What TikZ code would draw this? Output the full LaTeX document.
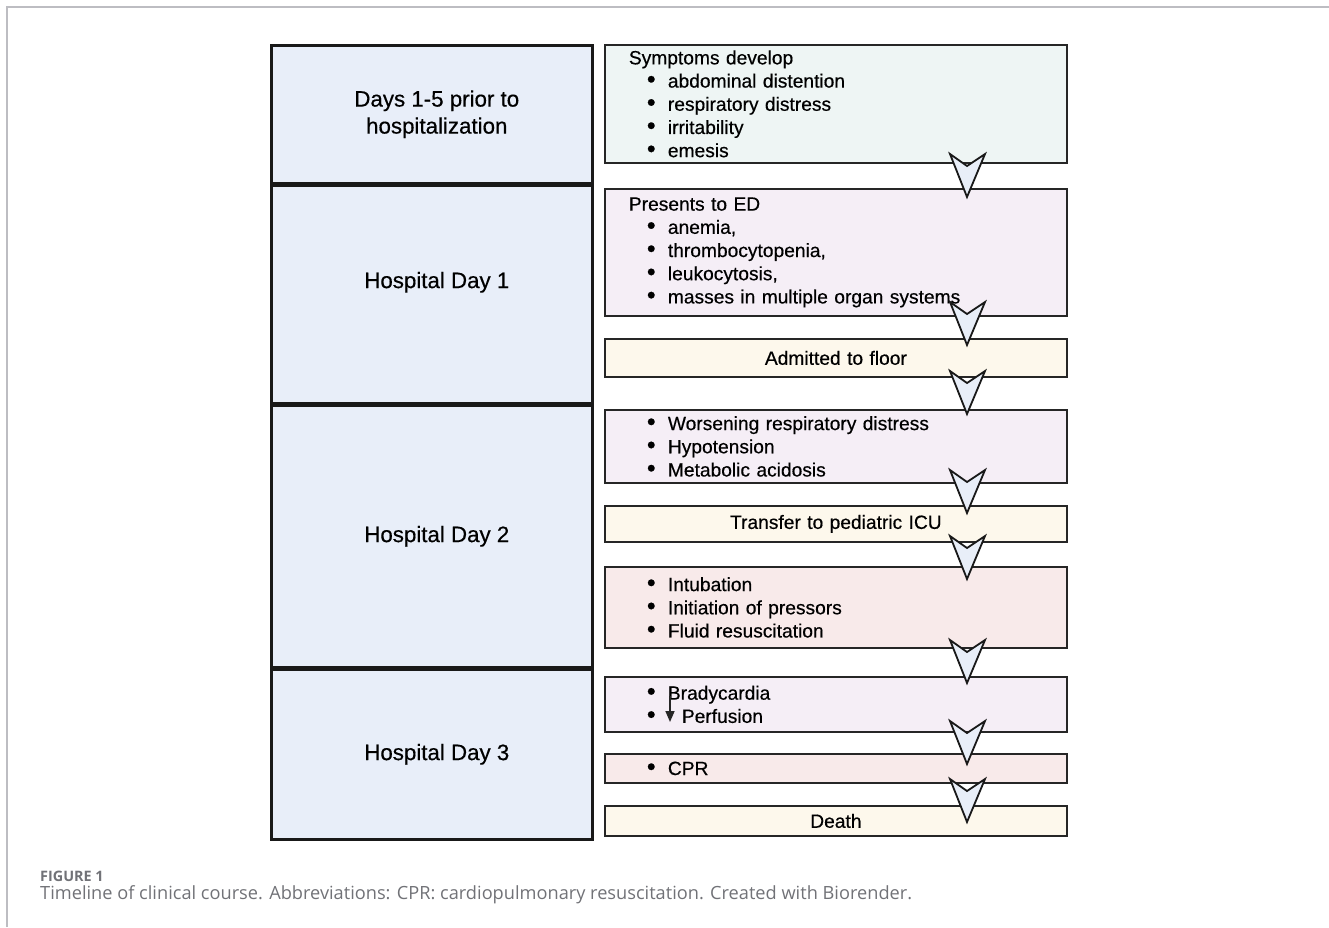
\documentclass[tikz,border=0pt]{standalone}
\usepackage{fontspec}
\setmainfont{Liberation Sans}
\newfontfamily\bodyfont{Liberation Sans}[FakeBold=0.45]
\newfontfamily\capfont{Open Sans}
\usetikzlibrary{arrows.meta, positioning, calc}

\definecolor{leftblue}{HTML}{E8EEF9}
\definecolor{symgreen}{HTML}{EEF5F4}
\definecolor{lavender}{HTML}{F5EEF6}
\definecolor{cream}{HTML}{FDF8EC}
\definecolor{rosepink}{HTML}{F8EAEA}
\definecolor{dartblue}{HTML}{E8EEF8}
\definecolor{framegray}{HTML}{BDBDC2}
\definecolor{capgray}{HTML}{717277}

\newcommand\bul[1]{\hspace*{18pt}\makebox[21pt][l]{\scalebox{1.3}{\textbullet}}#1}

\begin{document}
\begin{tikzpicture}[
    x=1pt, y=-1pt,
    daybox/.style={draw=black!90, line width=2.6pt, fill=leftblue, anchor=north west,
                   minimum width=321pt, align=center, daytext},
    daytext/.style={font=\bodyfont\fontsize{22.3}{27}\selectfont},
    rbox/.style={draw=black!85, line width=1.8pt, anchor=north west, inner xsep=24pt,
                 inner ysep=0pt, minimum width=462pt, text width=414pt, align=left,
                 font=\bodyfont\fontsize{19.2}{23.2}\selectfont},
    cbox/.style={rbox, align=center},
    dart/.style={draw=black!90, line width=1.8pt, fill=dartblue, line join=miter},
    downmark/.style={-{Triangle[width=9pt, length=11pt]}, line width=1.6pt, black!85},
  ]
  \useasboundingbox (0,0) rectangle (1329,927);

  % ---- Frame ----
  \draw[framegray, line width=1.6pt] (7,927) -- (7,7) -- (1329,7);

  % ---- Day column ----
  \node[daybox, minimum height=138pt] (d0) at (270,44) {\hspace*{10pt}Days 1-5 prior to\\\hspace*{10pt}hospitalization};
  \node[daybox, minimum height=218pt] (d1) at (270,184) {};
  \node[daytext] (d1t) at ([xshift=5pt, yshift=12pt]d1.center) {Hospital Day 1};
  \node[daybox, minimum height=262pt] (d2) at (270,404) {\hspace*{10pt}Hospital Day 2};
  \node[daybox, minimum height=170pt] (d3) at (270,668) {\hspace*{10pt}Hospital Day 3};

  % ---- Events ----
  \node[rbox, fill=symgreen, minimum height=118pt] (r1) at (604,44)
    {Symptoms develop\\\bul{abdominal distention}\\\bul{respiratory distress}\\
     \bul{irritability}\\\bul{emesis}};
  \node[rbox, fill=lavender, minimum height=127pt] (r2) at (604,188)
    {Presents to ED\\\bul{anemia,}\\\bul{thrombocytopenia,}\\\bul{leukocytosis,}\\
     \bul{masses in multiple organ systems}};
  \node[cbox, fill=cream, minimum height=38pt] (r3) at (604,338) {Admitted to floor};
  \node[rbox, fill=lavender, minimum height=73pt] (r4) at (604,409)
    {\bul{Worsening respiratory distress}\\\bul{Hypotension}\\\bul{Metabolic acidosis}};
  \node[cbox, fill=cream, minimum height=36pt] (r5) at (604,505) {Transfer to pediatric ICU};
  \node[rbox, fill=rosepink, minimum height=81pt] (r6) at (604,566)
    {\bul{Intubation}\\\bul{Initiation of pressors}\\\bul{Fluid resuscitation}};
  \node[rbox, fill=lavender, minimum height=55pt] (r7) at (604,676)
    {\bul{Bradycardia}\\\bul{\hspace*{14pt}Perfusion}};
  \node[rbox, fill=rosepink, minimum height=29pt] (r8) at (604,753) {\bul{CPR}};
  \node[cbox, fill=cream, minimum height=30pt] (r9) at (604,805) {Death};

  % ---- Decrease mark ----
  \coordinate (dnA) at ($(r7.north west)+(66,20)$);
  \coordinate (dnB) at ($(r7.north west)+(66,46)$);
  \draw[downmark] (dnA) -- (dnB);

  % ---- Darts between events ----
  \foreach \lo/\dy in {r2/9, r3/7, r4/5, r5/8, r6/13, r7/7, r8/11, r9/17} {
    \coordinate (tip) at ($(\lo.north west)+(363,\dy)$);
    \draw[dart] (tip) -- ++(-17,-43) -- ++(17,12) -- ++(18,-12) -- cycle;
  }

  % ---- Caption ----
  \node[anchor=west, inner sep=0pt, text=capgray,
        font=\capfont\bfseries\fontsize{14.4}{17}\selectfont] (fig) at (40,876) {FIGURE 1};
  \node[anchor=west, inner sep=0pt, text=capgray,
        font=\capfont\fontsize{18.2}{22}\selectfont] (cap) at (40,895)
    {Timeline of clinical course. Abbreviations: CPR: cardiopulmonary resuscitation. Created with Biorender.};
\end{tikzpicture}
\end{document}
